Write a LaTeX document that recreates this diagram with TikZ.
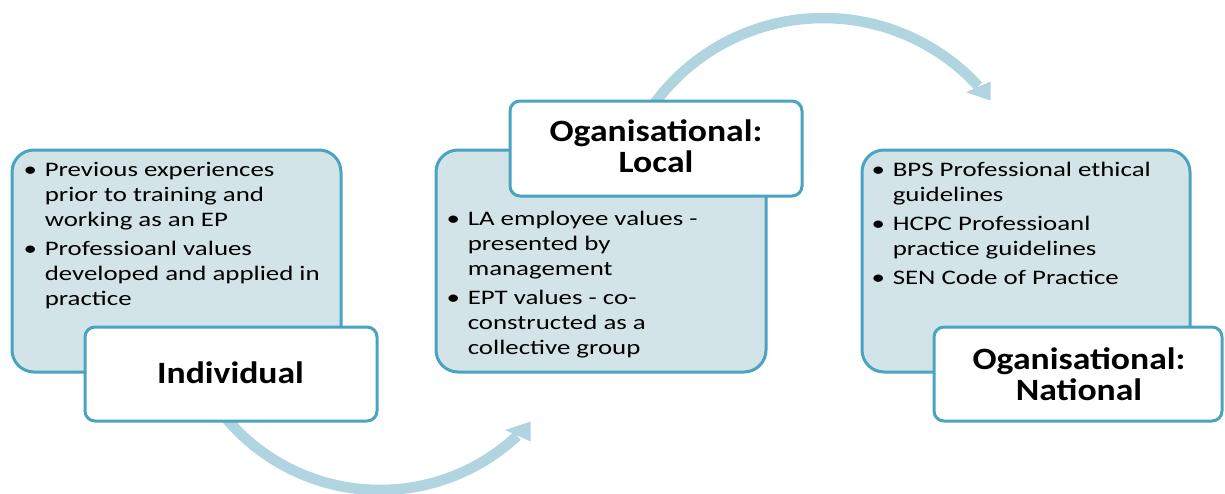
\documentclass[tikz,border=0pt]{standalone}
\usepackage{fontspec}
\newfontfamily\bodyfont{Carlito}[FakeStretch=1.3]
\newfontfamily\titlefont{Carlito}[FakeStretch=1.15]
\definecolor{edgeblue}{RGB}{74,163,193}
\definecolor{boxfill}{RGB}{211,228,232}
\definecolor{arrowblue}{RGB}{176,212,224}
\newcommand\bul{\makebox[0pt]{\textbullet}\hspace{10.9pt}}
\newcommand\cont{\hspace*{10.9pt}}
\tikzset{
  bluebox/.style={draw=edgeblue, fill=boxfill, line width=2.25pt, rounded corners=16.5pt, inner sep=0pt},
  whitebox/.style={draw=edgeblue, fill=white, line width=2.25pt, rounded corners=7.5pt, inner sep=0pt},
  bodytext/.style={inner sep=0pt, anchor=base west, text=black, font=\bodyfont\fontsize{15.5}{18.75}\selectfont},
  titletext/.style={inner sep=0pt, anchor=base, text=black, font=\titlefont\bfseries\fontsize{23.25}{23.25}\selectfont},
  arrowshaft/.style={draw=arrowblue, line width=7.9pt},
  arrowhead/.style={fill=arrowblue},
}
\begin{document}
\begin{tikzpicture}[x=0.75pt,y=-0.75pt]
\useasboundingbox (0,0) rectangle (1225,493);
% curved arrows (behind the boxes)
\coordinate (a1s) at (226.0,418.2);
\draw[arrowshaft] (a1s) arc[start angle=-140, end angle=-47, radius=150.75pt] coordinate (a1e);
\fill[arrowhead] (505,430) -- (530.5,421.5) -- (530.5,441.5) -- cycle;
\coordinate (a2s) at (653.6,104.6);
\draw[arrowshaft] (a2s) arc[start angle=144, end angle=42.5, radius=157.5pt] coordinate (a2e);
\fill[arrowhead] (966,92.3) -- (990.5,81.5) -- (990.5,100.5) -- cycle;
% boxes
\node[bluebox, minimum width=246.75pt, minimum height=166.5pt] (b1) at (176.5,261) {};
\node[whitebox, minimum width=219pt, minimum height=70.5pt] (l1) at (231,374) {};
\node[bluebox, minimum width=247.5pt, minimum height=166.5pt] (b2) at (601,261) {};
\node[whitebox, minimum width=219pt, minimum height=71.25pt] (l2) at (656,148.5) {};
\node[bluebox, minimum width=246pt, minimum height=166.5pt] (b3) at (1026,261) {};
\node[whitebox, minimum width=216pt, minimum height=70.5pt] (l3) at (1078,374) {};
% body texts
\node[bodytext] (t1) at (30,176) {\begin{tabular}[t]{@{}l@{}}\bul Previous experiences\\ \cont prior to training and\\ \cont working as an EP\\[3pt] \bul Professioanl values\\ \cont developed and applied in\\ \cont practice\end{tabular}};
\node[bodytext] (t2) at (453,225) {\begin{tabular}[t]{@{}l@{}}\bul LA employee values -\\ \cont presented by\\ \cont management\\[3pt] \bul EPT values - co-\\ \cont constructed as a\\ \cont collective group\end{tabular}};
\node[bodytext] (t3) at (878,176.5) {\begin{tabular}[t]{@{}l@{}}\bul BPS Professional ethical\\ \cont guidelines\\[3pt] \bul HCPC Professioanl\\ \cont practice guidelines\\[3pt] \bul SEN Code of Practice\end{tabular}};
% titles
\node[titletext] (n1) at (230.5,383) {Individual};
\node[titletext] (n2) at (656,141.5) {\begin{tabular}[t]{@{}c@{}}Oganisational:\\Local\end{tabular}};
\node[titletext] (n3) at (1079,369.5) {\begin{tabular}[t]{@{}c@{}}Oganisational:\\National\end{tabular}};
\end{tikzpicture}
\end{document}
